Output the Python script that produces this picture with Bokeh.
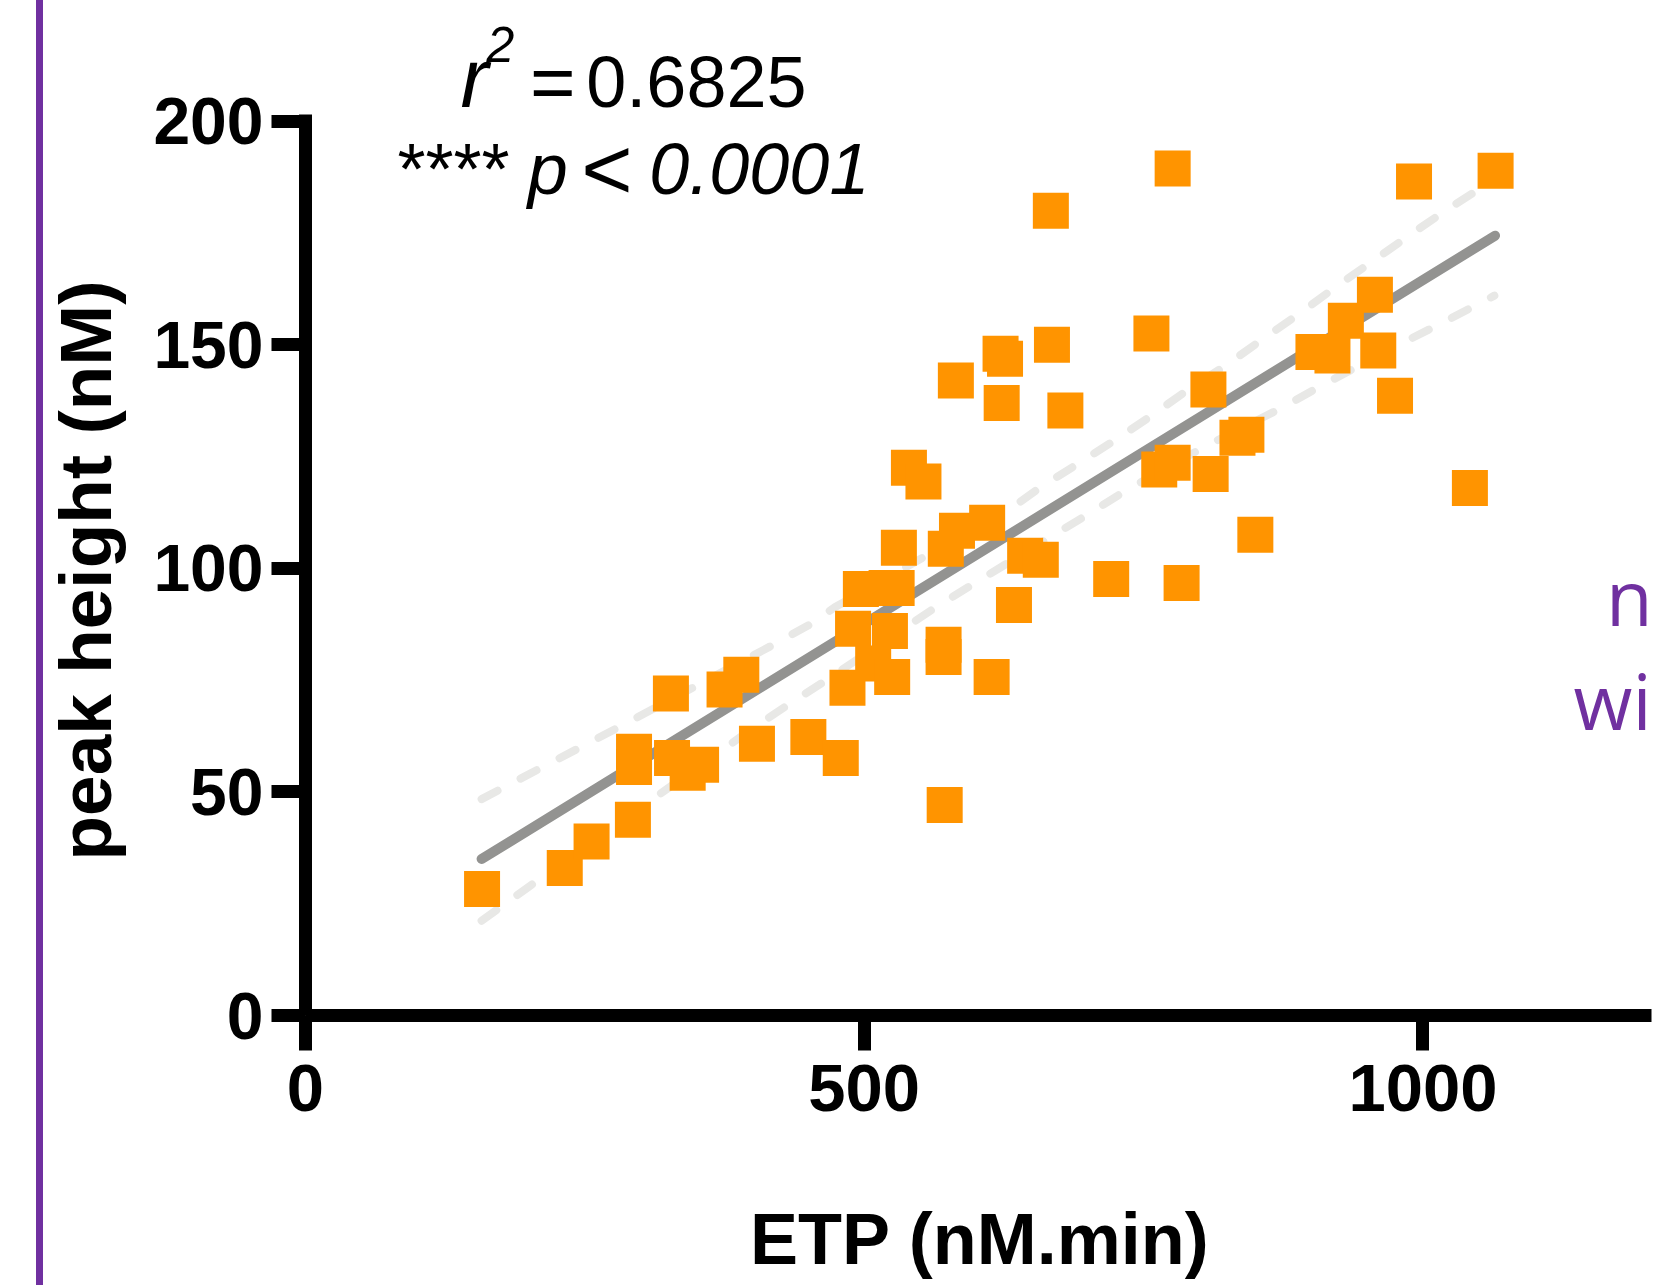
from bokeh.plotting import figure
from bokeh.models import Range1d, FixedTicker, Label, Div, Title
from bokeh.layouts import row
from bokeh.embed import file_html
from bokeh.resources import INLINE

# ---- data ----
etp = [158, 232, 256, 293, 294, 294, 327, 328, 342, 354,
       375, 390, 404, 450, 479, 485, 490, 523, 508, 525,
       572, 571, 571, 497, 520, 529, 614, 634, 644, 658,
       721, 784, 531, 573, 583, 610, 540, 553, 623, 680,
       764, 776, 810, 808, 834, 842, 850, 776, 667, 757,
       668, 622, 626, 582, 902, 919, 931, 957, 960, 975,
       992, 1065, 1042]
peak = [28.3, 33.0, 38.9, 43.8, 59.0, 55.6, 72.0, 57.6, 54.3, 56.1,
        72.9, 76.2, 60.8, 62.3, 57.6, 73.3, 86.5, 86.0, 78.7, 75.7,
        47.1, 82.9, 80.2, 95.4, 95.6, 95.6, 75.7, 91.8, 102.8, 101.9,
        97.6, 96.7, 104.6, 104.4, 108.4, 110.2, 122.5, 119.4, 137.0, 135.3,
        122.1, 123.6, 121.1, 140.0, 129.2, 129.9, 107.5, 189.4, 180.0, 152.5,
        150.0, 148.0, 146.9, 142.0, 148.4, 147.6, 155.4, 161.2, 148.7, 138.6,
        186.5, 188.9, 118.0]

fit_etp = [157.6, 1064.5]
fit_peak = [35.0, 174.4]

upper_etp = [157.6, 282.8, 417.0, 449.7, 473.6, 634.6, 656.9, 690.6, 724.6,
             756.8, 786.6, 825.4, 856.7, 889.5, 922.3, 955.1, 987.9, 1020.7, 1064.5]
upper_peak = [48.4, 64.8, 82.7, 87.2, 91.3, 114.0, 118.0, 123.3, 128.7,
              134.1, 139.4, 145.7, 151.3, 157.0, 163.0, 168.7, 174.5, 180.1, 187.1]

lower_etp = [157.6, 199.9, 396.1, 428.9, 461.7, 561.6, 594.3, 699.6, 731.5,
             806.0, 874.6, 909.4, 979.8, 1015.6, 1063.9]
lower_peak = [21.2, 28.8, 63.5, 69.0, 74.3, 90.9, 96.0, 112.0, 117.0,
              127.4, 136.0, 140.9, 150.2, 154.7, 161.0]

x_ticks = [0, 500, 1000]
y_ticks = [0, 50, 100, 150, 200]

ORANGE = "#FF9400"
PURPLE = "#7030A0"
FONT = "Liberation Sans"
W, H = 1654, 1285
SIDE_W = 44

# ---- purple rule at the far left ----
side = Div(text=('<div style="margin-left:36px;width:7px;height:%dpx;'
                 'background-color:%s"></div>' % (H, PURPLE)),
           width=SIDE_W, height=H, margin=(0, 0, 0, 0))

# ---- main plot ----
p = figure(width=W - SIDE_W, height=H, x_range=Range1d(0, 1207.2), y_range=Range1d(0, 227.0),
           toolbar_location=None, output_backend="svg",
           min_border_left=260, min_border_right=0, min_border_top=0, min_border_bottom=270,
           outline_line_color=None, background_fill_color="white", border_fill_color="white")
p.xgrid.grid_line_color = None
p.ygrid.grid_line_color = None

for ax in (p.xaxis[0], p.yaxis[0]):
    ax.axis_line_width = 13
    ax.axis_line_color = "black"
    ax.major_tick_line_width = 13
    ax.major_tick_line_color = "black"
    ax.major_tick_in = 0
    ax.minor_tick_line_color = None
    ax.major_label_text_font = FONT
    ax.major_label_text_font_style = "bold"
    ax.major_label_text_color = "black"
    ax.axis_label_text_font = FONT
    ax.axis_label_text_font_style = "bold"
    ax.axis_label_text_color = "black"

p.xaxis.ticker = FixedTicker(ticks=x_ticks)
p.yaxis.ticker = FixedTicker(ticks=y_ticks)
p.xaxis.bounds = (0, 1204.5)
p.yaxis.bounds = (0, 201.45)
p.xaxis.major_tick_out = 35
p.yaxis.major_tick_out = 34
p.xaxis.major_label_text_font_size = "67px"
p.yaxis.major_label_text_font_size = "66px"
p.xaxis.major_label_standoff = 14
p.yaxis.major_label_standoff = 8
p.xaxis.axis_label = "ETP (nM.min)"
p.xaxis.axis_label_text_font_size = "72px"
p.xaxis.axis_label_standoff = 85
# spacer between the y tick labels and the y title
p.yaxis.axis_label = " "
p.yaxis.axis_label_text_font_size = "1px"
p.yaxis.axis_label_standoff = 19

# y axis title: a side title so it is centred on the 0-200 axis
p.add_layout(Title(text="peak height (nM)", align="left", offset=155,
                   vertical_align="top", standoff=0,
                   text_font=FONT, text_font_style="bold", text_font_size="73px",
                   text_color="black"), "left")

# confidence band and fit
p.line(upper_etp, upper_peak, line_color="#E8E8E6", line_width=8, line_dash="18 26", line_cap="round")
p.line(lower_etp, lower_peak, line_color="#E8E8E6", line_width=8, line_dash="18 26", line_cap="round")
p.line(fit_etp, fit_peak, line_color="#939391", line_width=10, line_cap="round")

# points
p.scatter(etp, peak, marker="square", size=36, fill_color=ORANGE, line_color=None)

def lab(x, y, text, size, style="normal", color="black", font=FONT, align="left"):
    p.add_layout(Label(x=x, y=y, text=text, text_font=font, text_font_size=size,
                       text_font_style=style, text_color=color,
                       text_align=align, text_baseline="alphabetic"))

# statistics text
lab(138.6, 209.6, "r", "84px", "italic")
lab(161.9, 217.2, "2", "50px", "italic")
lab(201.0, 208.7, "=", "78px")
lab(251.3, 208.7, "0.6825", "72px")
lab(82.3, 189.4, "****", "72px")
lab(198.9, 189.4, "p", "72px", "italic")
lab(246.8, 189.4, "<", "88px")
lab(307.6, 189.4, "0.0001", "72px", "italic")

# purple side note (cut by the picture edge in the original)
lab(1205.4, 93.6, "n", "76px", color=PURPLE, font="Open Sans", align="right")
lab(1134.8, 70.5, "wi", "76px", color=PURPLE, font="Open Sans")

layout = row(side, p)
open("out.html", "w").write(file_html(layout, INLINE))
